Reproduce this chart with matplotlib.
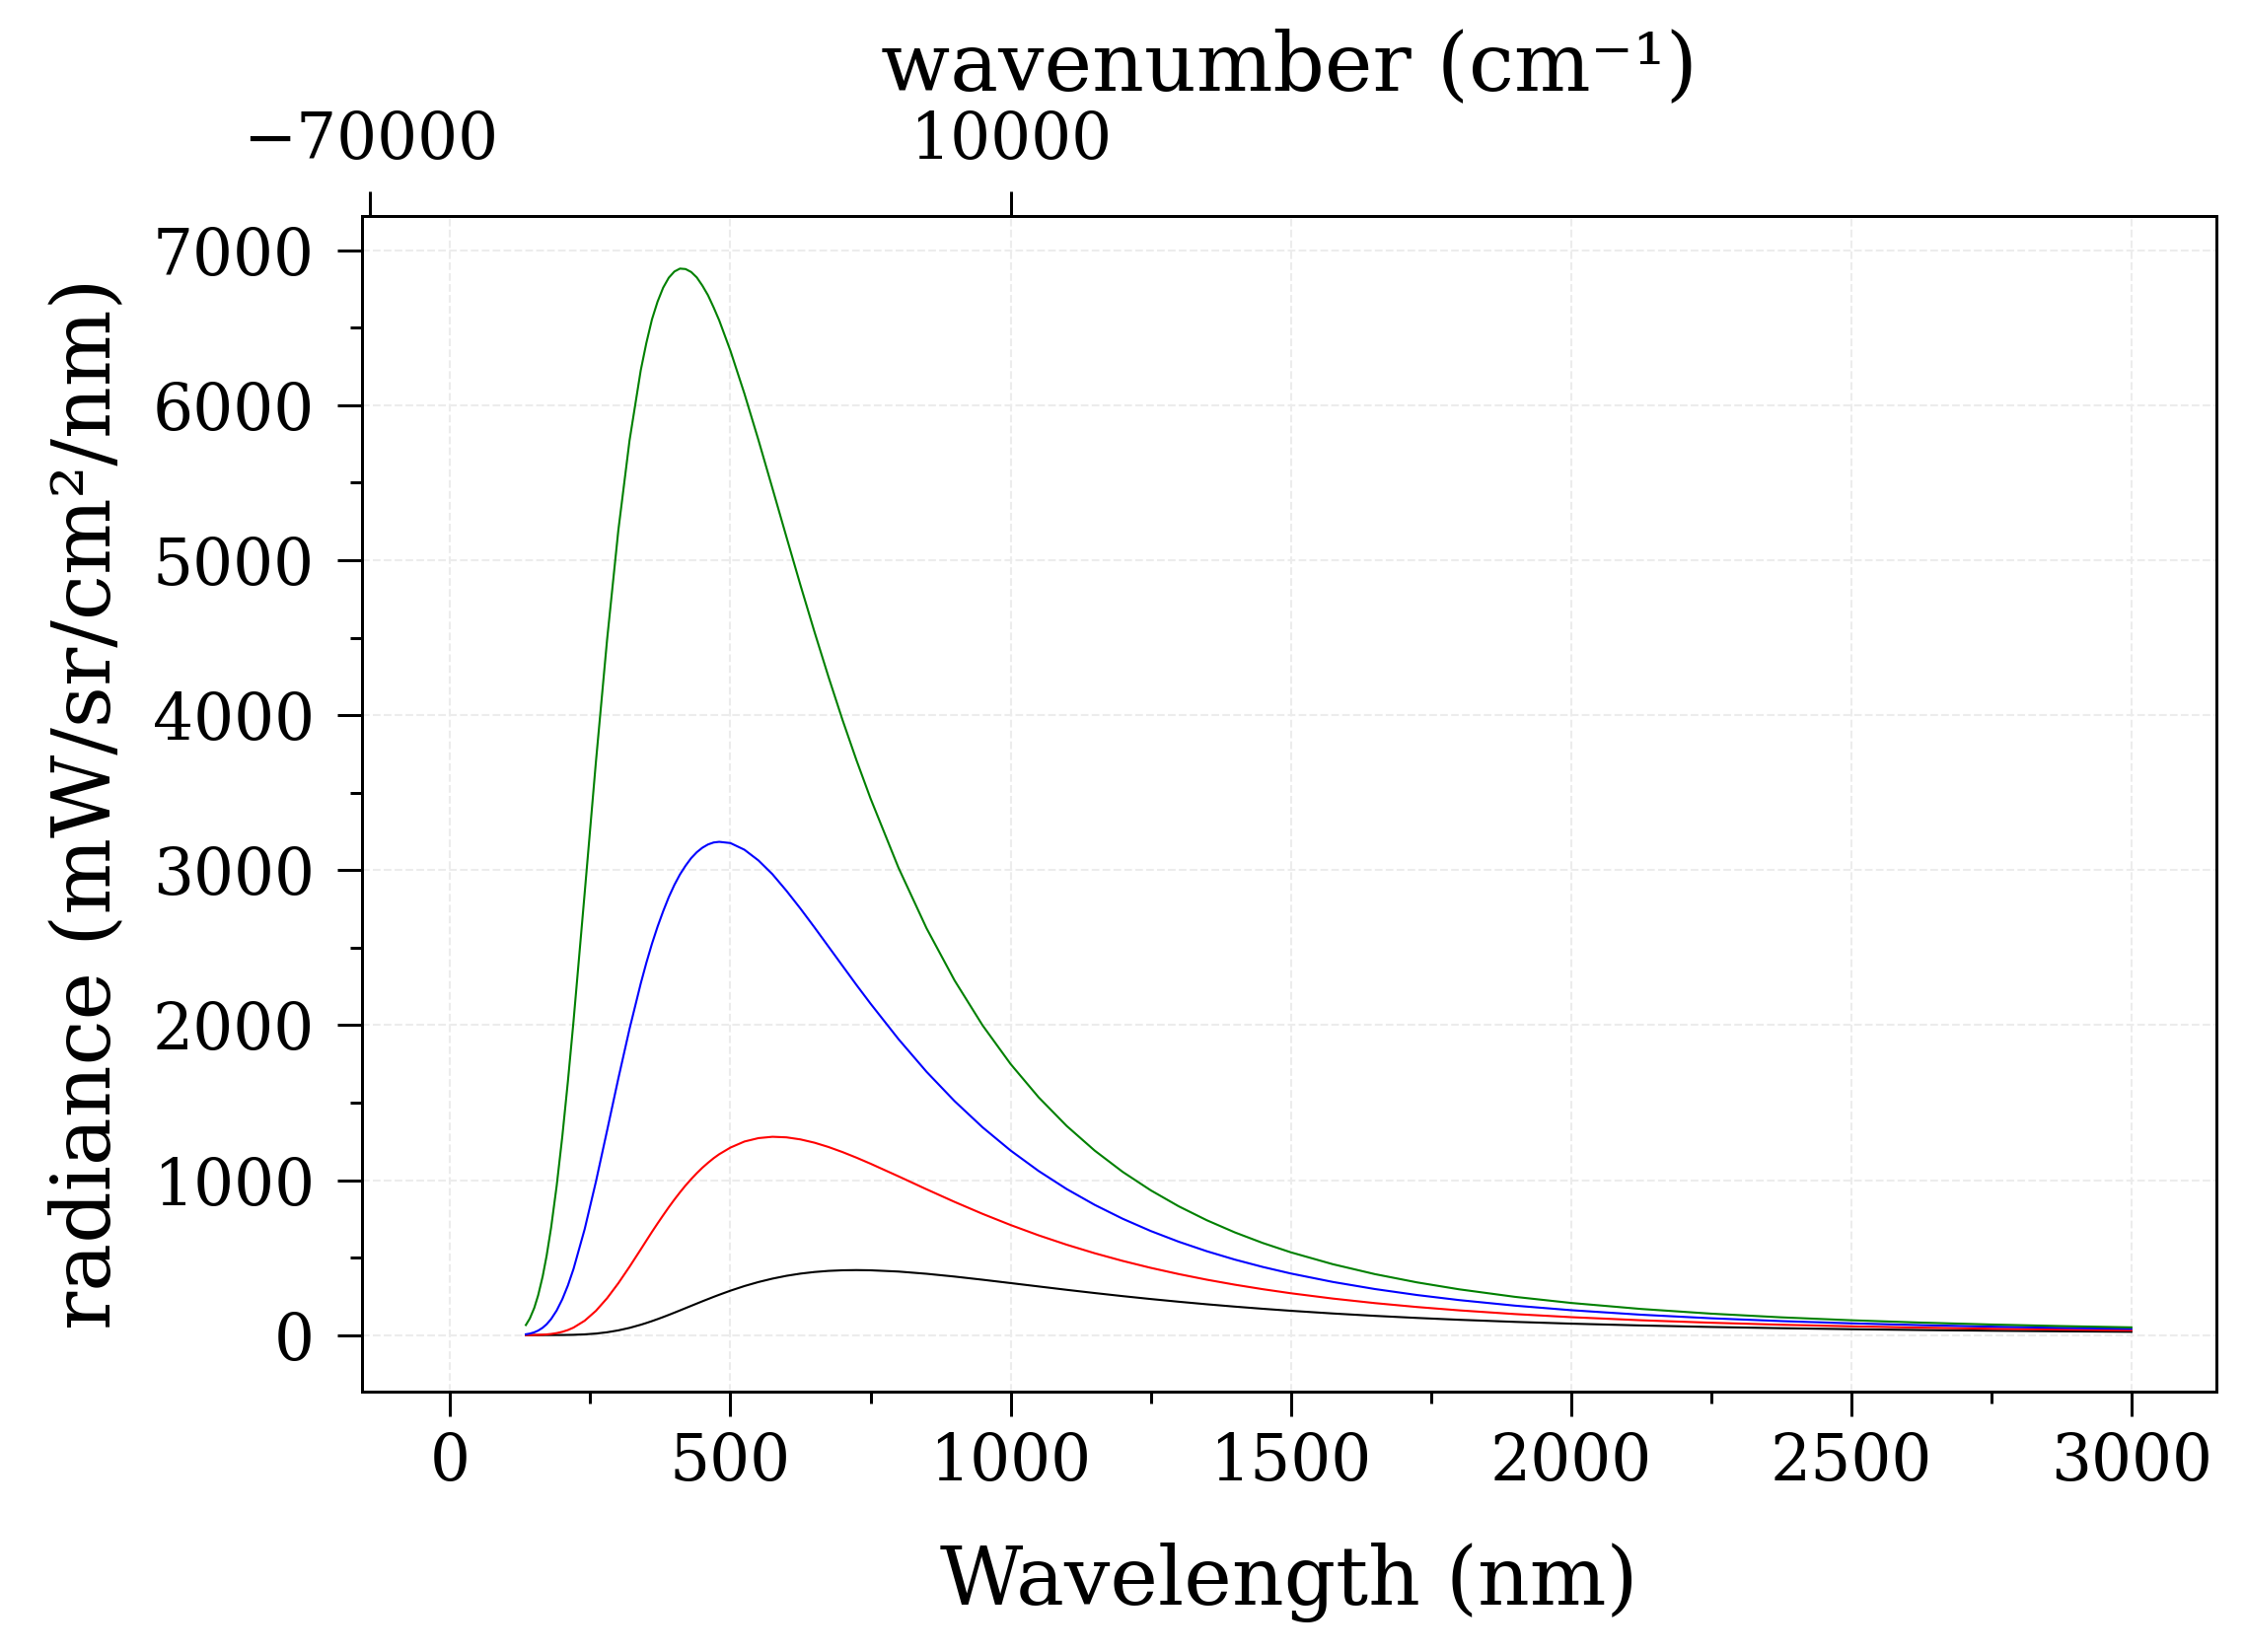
import numpy as np
import matplotlib.pyplot as plt
from matplotlib.ticker import MultipleLocator

# wavelength samples (nm) and radiance (mW/sr/cm^2/nm)
wavelength = [135, 142, 150, 157, 165, 172, 180, 190, 200, 210,
              220, 240, 260, 280, 300, 320, 340, 350, 360, 370,
              380, 390, 400, 410, 420, 430, 440, 450, 460, 470,
              480, 500, 525, 550, 575, 600, 625, 650, 675, 700,
              725, 750, 800, 850, 900, 950, 1000, 1050, 1100, 1150,
              1200, 1250, 1300, 1350, 1400, 1450, 1500, 1575, 1650, 1725,
              1800, 1900, 2000, 2125, 2250, 2375, 2500, 2625, 2750, 2875,
              3000]

rad_green = [64.8, 106.7, 175.5, 257.4, 378.9, 511.1, 692.4, 963.8, 1281, 1637.4,
             2024, 2855, 3699, 4490, 5193, 5773, 6226, 6402, 6554, 6668.6,
             6759, 6823, 6863, 6882, 6879, 6860, 6825, 6772, 6710, 6632,
             6548, 6352, 6075, 5776, 5464, 5150, 4839, 4538, 4247.6, 3970,
             3709, 3463, 3015, 2625, 2288.5, 1998.4, 1749, 1534.4, 1349.8, 1190.6,
             1053.1, 934.3, 831.0, 741.2, 662.8, 594.2, 534.1, 457.3, 393.4, 340.2,
             295.5, 246.7, 207.4, 168.55, 138.3, 114.54, 95.62, 80.44, 68.13, 58.08,
             49.81]

rad_blue = [5.13, 9.562, 17.88, 29.04, 47.5, 69.72, 103.2, 158.8, 231.0, 320.3,
            426.6, 684.5, 989.9, 1321, 1656, 1976, 2269, 2402.4, 2525, 2635.4,
            2735, 2826, 2905, 2972.7, 3029, 3078, 3116, 3145, 3166, 3178.7,
            3183, 3175, 3132, 3063, 2974, 2867, 2752, 2631, 2506.9, 2383,
            2259, 2139, 1909.5, 1699, 1509.8, 1340.6, 1190.9, 1058.8, 942.5, 840.4,
            750.6, 671.7, 602.4, 541.2, 487.2, 439.6, 397.4, 342.9, 297.1, 258.6,
            226.0, 189.9, 160.7, 131.45, 108.5, 90.33, 75.77, 64.01, 54.42, 46.55,
            40.04]

rad_red = [0.147, 0.326, 0.731, 1.368, 2.596, 4.291, 7.186, 12.73, 21.0, 32.63,
           48.22, 92.83, 156.4, 238.2, 334.6, 441.1, 552.9, 609.6, 665.8, 720.2,
           773.2, 825.0, 874.3, 921.1, 965.6, 1006.4, 1044.7, 1080.0, 1111.7, 1141.2,
           1167, 1210, 1249, 1271, 1279.6, 1276, 1262.7, 1241.5, 1213.7, 1181,
           1144.8, 1106, 1024.3, 940.8, 859.5, 782.2, 710.2, 643.7, 583.2, 528.2,
           478.6, 433.9, 393.7, 357.5, 325.2, 296.1, 269.9, 235.6, 206.3, 181.2,
           159.7, 135.6, 115.7, 95.65, 79.65, 66.82, 56.43, 47.95, 40.99, 35.24,
           30.45]

rad_black = [0.001, 0.002, 0.006, 0.014, 0.033, 0.065, 0.132, 0.288, 0.575, 1.061,
             1.833, 4.631, 9.83, 18.25, 30.42, 46.58, 66.69, 78.04, 90.16, 103.0,
             116.4, 130.3, 144.6, 159.2, 174.0, 188.7, 203.4, 218.1, 232.3, 246.5,
             260.2, 286.5, 316.4, 342.3, 364.3, 382.5, 396.7, 407.1, 414.2, 418.1,
             419.4, 418.1, 410.0, 395.6, 377.6, 357.2, 335.6, 313.8, 292.1, 271.3,
             251.4, 232.7, 215.2, 198.8, 183.7, 169.7, 156.8, 139.4, 124.1, 110.7,
             98.85, 85.27, 73.84, 61.99, 52.32, 44.43, 37.93, 32.54, 28.06, 24.31,
             21.15]

top_ticks = [-70000, 10000]

plt.rcParams['font.family'] = 'serif'
plt.rcParams['axes.linewidth'] = 0.72

fig = plt.figure(figsize=(2276 / 300, 1675 / 300), dpi=300)
ax = fig.add_axes([0.1611, 0.1576, 0.826, 0.7118])

ax.plot(wavelength, rad_black, color='k', lw=0.5)
ax.plot(wavelength, rad_red, color='r', lw=0.5)
ax.plot(wavelength, rad_blue, color='b', lw=0.5)
ax.plot(wavelength, rad_green, color='g', lw=0.5)

ax.set_xlim(-158, 3151)
ax.set_ylim(-365, 7223)
ax.xaxis.set_major_locator(MultipleLocator(500))
ax.xaxis.set_minor_locator(MultipleLocator(250))
ax.yaxis.set_major_locator(MultipleLocator(1000))
ax.yaxis.set_minor_locator(MultipleLocator(500))
ax.tick_params(which='major', direction='out', length=5.9, width=0.72, labelsize=15.5)
ax.tick_params(which='minor', direction='out', length=2.8, width=0.72)
ax.tick_params(axis='x', pad=3.6)
ax.tick_params(axis='y', pad=5.6)
ax.grid(True, which='major', ls='--', lw=0.5, color='#ececec')
ax.set_axisbelow(True)

ax.set_xlabel('Wavelength (nm)', fontsize=19.7, labelpad=11.9)
ax.set_ylabel('radiance (mW/sr/cm²/nm)', fontsize=19.7, labelpad=6)


def to_wavenumber(x):
    x = np.asarray(x, dtype=float)
    with np.errstate(divide='ignore', invalid='ignore'):
        return 1e7 / x


secax = ax.secondary_xaxis('top', functions=(to_wavenumber, to_wavenumber))
secax.set_xticks(top_ticks)
secax.tick_params(direction='out', length=5.9, width=0.72, labelsize=15.5, pad=4.6)
secax.set_xlabel('wavenumber (cm⁻¹)', fontsize=19.7, labelpad=4.6)

fig.savefig('out.png', dpi=300)
